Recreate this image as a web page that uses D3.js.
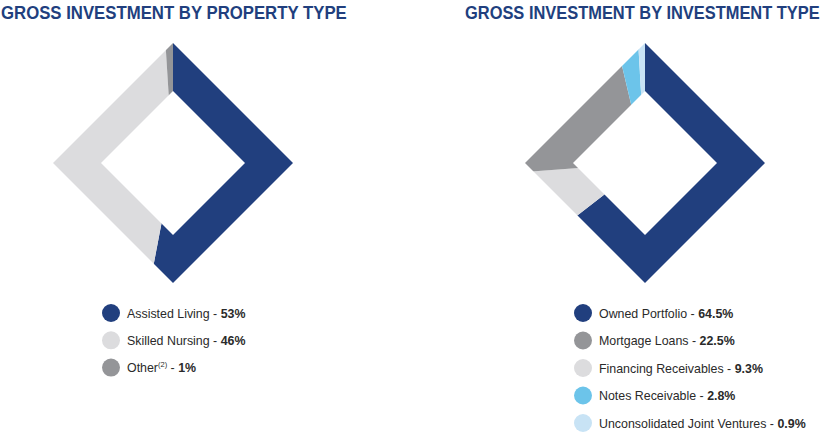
<!DOCTYPE html>
<html><head><meta charset="utf-8">
<script src="https://cdn.jsdelivr.net/npm/d3@7"></script>
<style>body{margin:0;background:#fff}svg{display:block}</style>
</head><body>
<svg id="c" width="827" height="433"></svg>
<script>
const titles = ["GROSS INVESTMENT BY PROPERTY TYPE", "GROSS INVESTMENT BY INVESTMENT TYPE"];
const propCategories = ["Assisted Living", "Skilled Nursing", "Other"];
const propValues = [53, 46, 1];
const propLabels = ["53%", "46%", "1%"];
const propColors = ["#213f7e", "#dcdcde", "#949598"];
const invCategories = ["Owned Portfolio", "Financing Receivables", "Mortgage Loans", "Notes Receivable", "Unconsolidated Joint Ventures"];
const invValues = [64.5, 9.3, 22.5, 2.8, 0.9];
const invLabels = ["64.5%", "9.3%", "22.5%", "2.8%", "0.9%"];
const invColors = ["#213f7e", "#dcdcde", "#949598", "#6cc4ea", "#c8e3f5"];
const invLegendOrder = [0, 2, 1, 3, 4];

const svg = d3.select("#c");
const navy = "#213f7e";

function diamondChart(id, cx, cy, rOut, rIn, values, colors) {
  const g = svg.append("g").attr("transform", `translate(${cx},${cy})`);
  const ring = `M0,${-rOut}L${rOut},0L0,${rOut}L${-rOut},0Z M0,${-rIn}L${rIn},0L0,${rIn}L${-rIn},0Z`;
  svg.append("defs").append("clipPath").attr("id", id)
    .append("path").attr("d", ring).attr("clip-rule", "evenodd");
  const pie = d3.pie().sort(null).value(d => d);
  const arc = d3.arc().innerRadius(0).outerRadius(rOut * 1.6);
  g.append("g").attr("clip-path", `url(#${id})`)
    .selectAll("path").data(pie(values)).join("path")
    .attr("d", arc).attr("fill", (d, i) => colors[i]);
}

diamondChart("clipA", 173, 163, 120, 72, propValues, propColors);
diamondChart("clipB", 645, 163, 120, 72, invValues, invColors);

const titleFont = "'Liberation Sans', Arial, Helvetica, sans-serif";
function title(str, x, y, width) {
  const t = svg.append("text").attr("x", 0).attr("y", 0).text(str)
    .attr("font-family", titleFont)
    .attr("font-weight", "bold").attr("font-size", 19).attr("fill", navy);
  const len = t.node().getComputedTextLength();
  t.attr("transform", `translate(${x},${y}) scale(${width / len},1)`);
}
title(titles[0], 1, 18.5, 346);
title(titles[1], 465, 18.5, 355);

function legend(x, y0, step, items) {
  const g = svg.append("g");
  items.forEach((it, k) => {
    const y = y0 + k * step;
    g.append("circle").attr("cx", x).attr("cy", y).attr("r", 9).attr("fill", it.color);
    const t = g.append("text").attr("x", x + 16).attr("y", y + 4.5)
      .attr("font-family", "'Liberation Sans', Arial, sans-serif").attr("font-size", 12.4).attr("fill", "#2a2a2a");
    t.append("tspan").text(it.name);
    if (it.sup) t.append("tspan").text(it.sup).attr("font-size", 7.5).attr("dy", -5);
    t.append("tspan").text(" - ").attr("dy", it.sup ? 5 : 0);
    t.append("tspan").text(it.label).attr("font-weight", "bold");
  });
}

legend(111, 313, 27.3, propCategories.map((c, i) => ({name: c, label: propLabels[i], color: propColors[i], sup: c === "Other" ? "(2)" : null})));
legend(583, 313, 27.5, invLegendOrder.map(i => ({name: invCategories[i], label: invLabels[i], color: invColors[i]})));
</script>
</body></html>
